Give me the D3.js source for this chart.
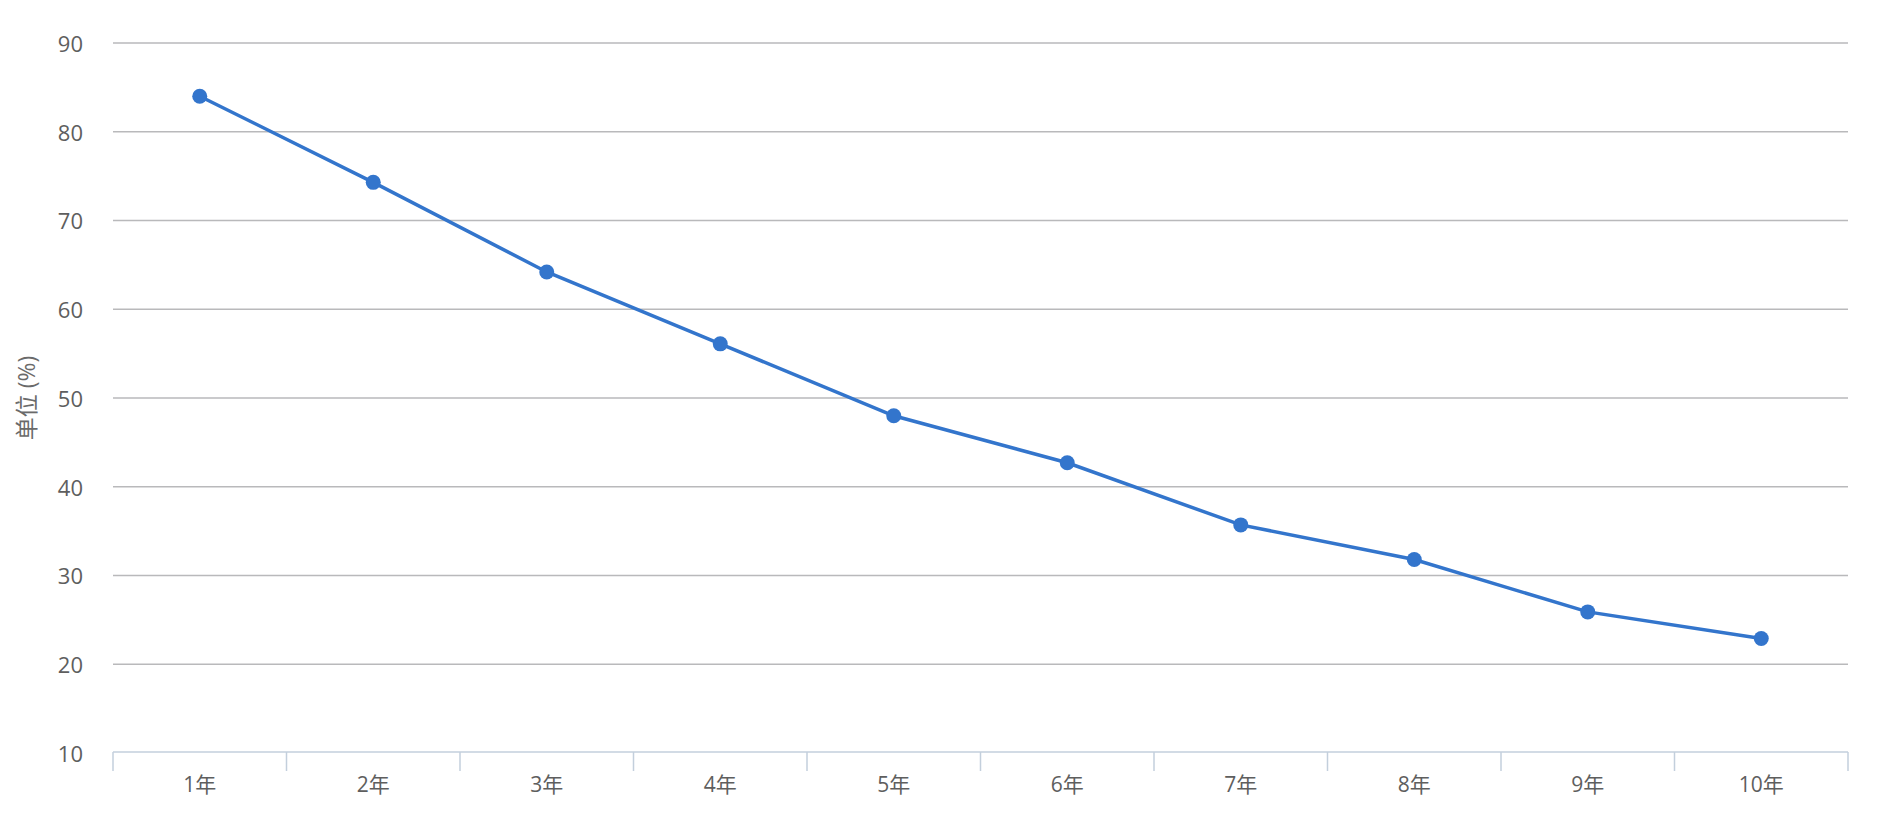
<!DOCTYPE html>
<html>
<head>
<meta charset="utf-8">
<script src="https://cdn.jsdelivr.net/npm/d3@7"></script>
<style>
html,body{margin:0;padding:0;background:#fff;}
svg{display:block;font-family:"Open Sans","Noto Sans CJK SC",sans-serif;}
</style>
</head>
<body>
<svg id="chart" width="1888" height="816"></svg>
<script>
const categories = ["1年","2年","3年","4年","5年","6年","7年","8年","9年","10年"];
const values = [84.0, 74.3, 64.2, 56.1, 48.0, 42.7, 35.7, 31.8, 25.9, 22.9];
const yTicks = [10,20,30,40,50,60,70,80,90];
const yTitle = "单位 (%)";

(function(){
const svg = d3.select("#chart");
const mLeft = 113, mRight = 1848, mTop = 43, mBottom = 753;

const x = d3.scaleBand().domain(categories).range([mLeft, mRight]).padding(0);
const y = d3.scaleLinear().domain([10, 90]).range([mBottom, mTop]);

// gridlines
svg.append("g").selectAll("line").data(yTicks.filter(d => d > 10)).join("line")
  .attr("x1", mLeft).attr("x2", mRight)
  .attr("y1", d => y(d)).attr("y2", d => y(d))
  .attr("stroke", "#b9b9bb").attr("stroke-width", 1.5);

// y labels
svg.append("g").selectAll("text").data(yTicks).join("text")
  .attr("x", 83).attr("y", d => y(d) + 3)
  .attr("text-anchor", "end").attr("dominant-baseline", "middle")
  .attr("font-size", 22).attr("fill", "#5e5e5e")
  .text(d => d);

// x axis
const xAxisY = 752;
svg.append("line").attr("x1", mLeft).attr("x2", mRight)
  .attr("y1", xAxisY).attr("y2", xAxisY)
  .attr("stroke", "#c3cfdc").attr("stroke-width", 1.5);
const boundaries = categories.map(c => x(c)).concat([x(categories[categories.length-1]) + x.bandwidth()]);
svg.append("g").selectAll("line").data(boundaries).join("line")
  .attr("x1", d => d).attr("x2", d => d)
  .attr("y1", xAxisY).attr("y2", xAxisY + 19)
  .attr("stroke", "#c3cfdc").attr("stroke-width", 1.5);
svg.append("g").selectAll("text").data(categories).join("text")
  .attr("x", d => x(d) + x.bandwidth()/2).attr("y", 792)
  .attr("text-anchor", "middle")
  .attr("font-size", 21).attr("fill", "#5e5e5e")
  .text(d => d);

// y title
svg.append("text")
  .attr("transform", `translate(35,${(mTop+mBottom)/2}) rotate(-90)`)
  .attr("text-anchor", "middle")
  .attr("font-size", 23).attr("fill", "#6a6a6a")
  .text(yTitle);

// line
const line = d3.line().x((d,i) => x(categories[i]) + x.bandwidth()/2).y(d => y(d));
svg.append("path").datum(values)
  .attr("d", line).attr("fill", "none")
  .attr("stroke", "#3375cc").attr("stroke-width", 3.5);

svg.append("g").selectAll("circle").data(values).join("circle")
  .attr("cx", (d,i) => x(categories[i]) + x.bandwidth()/2)
  .attr("cy", d => y(d)).attr("r", 7.5)
  .attr("fill", "#3375cc");
})();
</script>
</body>
</html>
